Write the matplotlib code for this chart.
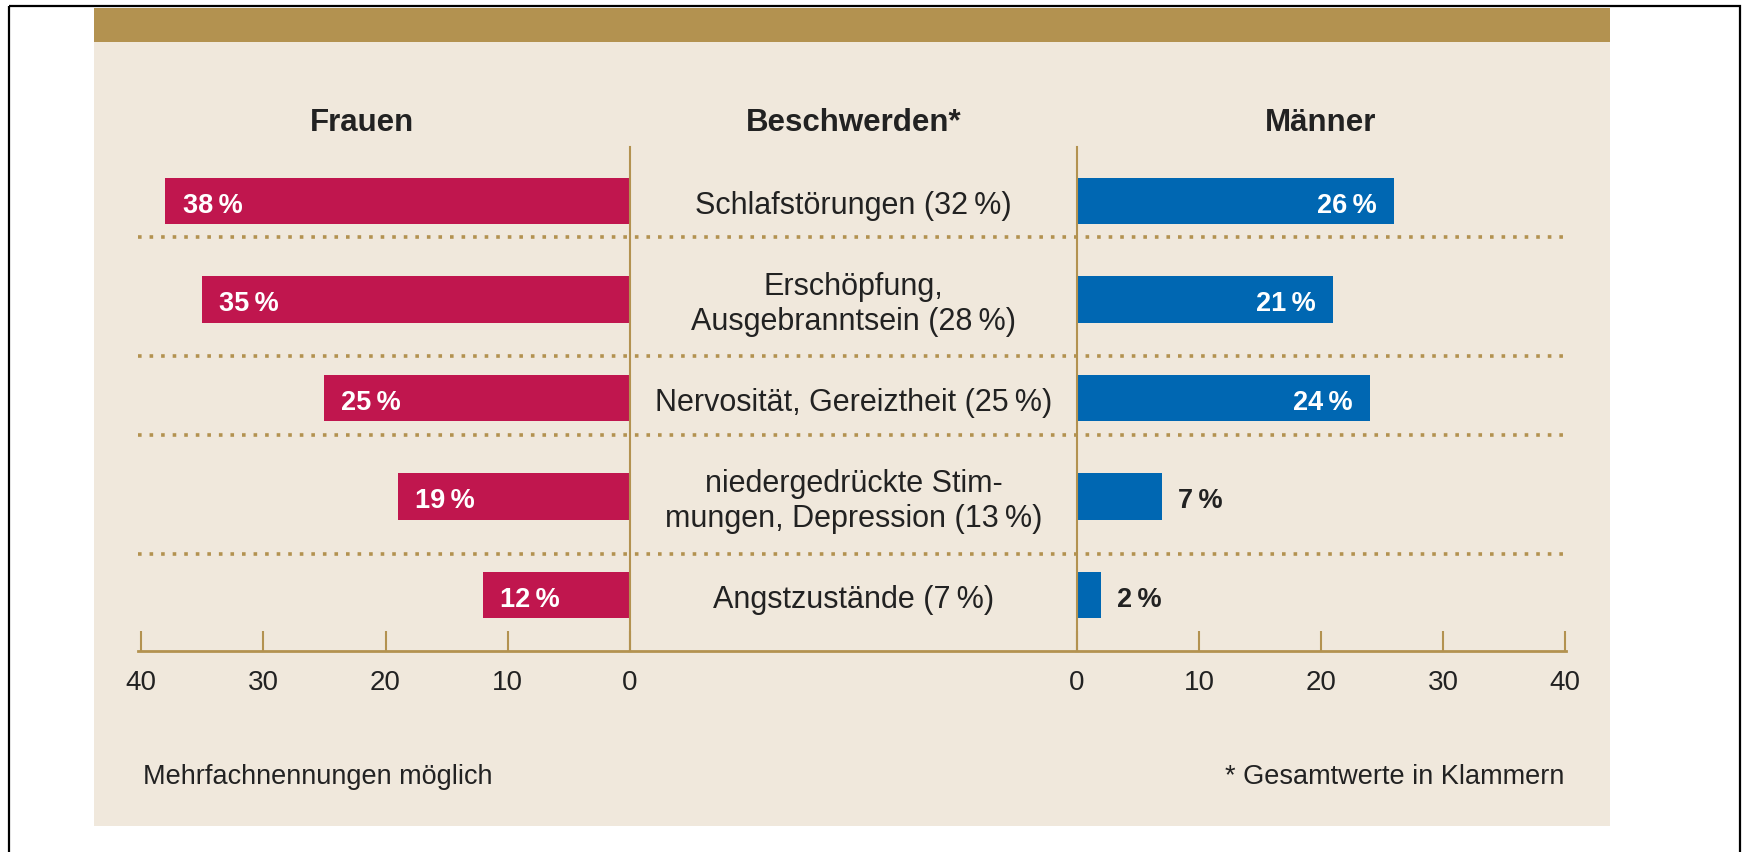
import matplotlib
matplotlib.use("Agg")
import matplotlib.pyplot as plt
from matplotlib.patches import Rectangle
from matplotlib import transforms

plt.rcParams['font.family'] = ['Liberation Sans', 'DejaVu Sans']

# data
beschwerden = ['Schlafstörungen', 'Erschöpfung,\nAusgebranntsein', 'Nervosität, Gereiztheit',
               'niedergedrückte Stim-\nmungen, Depression', 'Angstzustände']
gesamt = [32, 28, 25, 13, 7]
frauen = [38, 35, 25, 19, 12]
maenner = [26, 21, 24, 7, 2]
ticks = [0, 10, 20, 30, 40]

# colours
crimson = '#c0164e'
blue = '#0067b2'
gold = '#b39250'
beige = '#f0e8dc'
dark = '#222222'

W, H = 1748, 853
fig = plt.figure(figsize=(W / 100, H / 100), dpi=100)

def shifted(tr, dy=-4):
    # nudge text down a little so the glyphs sit centred like in the print
    return transforms.offset_copy(tr, fig=fig, y=dy, units='dots')

# background panel, gold band, frame
bg = fig.add_axes([0, 0, 1, 1])
bg.set_xlim(0, W)
bg.set_ylim(H, 0)
bg.axis('off')
bg.add_patch(Rectangle((94, 9), 1516, 818, color=beige, lw=0))
bg.add_patch(Rectangle((94, 9), 1516, 34, color=gold, lw=0))
bg.add_patch(Rectangle((9, 7), 1731, 900, fill=False, ec='black', lw=1.6))

ypos = list(range(len(beschwerden)))
ylim = (4.565, -0.549)
ax_bottom = 1 - 651.7 / H
ax_height = 504 / H

# middle strip: bottom line + dotted separators
ax_mid = fig.add_axes([138 / W, ax_bottom, (1566 - 138) / W, ax_height])
ax_mid.set_xlim(0, 1)
ax_mid.set_ylim(*ylim)
ax_mid.patch.set_visible(False)
for s in ['top', 'left', 'right']:
    ax_mid.spines[s].set_visible(False)
ax_mid.spines['bottom'].set_color(gold)
ax_mid.spines['bottom'].set_linewidth(2.0)
ax_mid.set_xticks([])
ax_mid.set_yticks([])
sep_pos = [0.37, 1.57, 2.38, 3.58]
ax_mid.hlines(sep_pos, 0, 1, colors=gold, linewidth=2.6, linestyles=(0, (1, 2.2)))

# Frauen (left)
ax_l = fig.add_axes([141 / W, ax_bottom, 489 / W, ax_height])
ax_l.barh(ypos, frauen, height=0.47, color=crimson)
ax_l.set_xlim(40, 0)
ax_l.set_ylim(*ylim)

# Männer (right)
ax_r = fig.add_axes([1077 / W, ax_bottom, 488 / W, ax_height])
ax_r.barh(ypos, maenner, height=0.47, color=blue)
ax_r.set_xlim(0, 40)
ax_r.set_ylim(*ylim)

for ax, keep in [(ax_l, 'right'), (ax_r, 'left')]:
    ax.patch.set_visible(False)
    for s in ['top', 'bottom', 'left', 'right']:
        ax.spines[s].set_visible(s == keep)
    ax.spines[keep].set_color(gold)
    ax.spines[keep].set_linewidth(1.5)
    ax.set_yticks([])
    ax.set_xticks(ticks)
    ax.tick_params(axis='x', direction='in', length=14.5, width=1.5, color=gold,
                   labelsize=20, labelcolor=dark, pad=13)

for y, v in zip(ypos, frauen):
    ax_l.text(v - 1.4, y, f'{v}\u2009%', ha='left', va='center', color='white',
              fontsize=19.5, fontweight='bold', transform=shifted(ax_l.transData))

for y, v in zip(ypos, maenner):
    if v >= 10:
        ax_r.text(v - 1.4, y, f'{v}\u2009%', ha='right', va='center', color='white',
                  fontsize=19.5, fontweight='bold', transform=shifted(ax_r.transData))
    else:
        ax_r.text(v + 1.3, y, f'{v}\u2009%', ha='left', va='center', color=dark,
                  fontsize=19.5, fontweight='bold', transform=shifted(ax_r.transData))

# category labels in the middle
trans = transforms.blended_transform_factory(fig.transFigure, ax_l.transData)
for y, name, g in zip(ypos, beschwerden, gesamt):
    fig.text(853.5 / W, y, f'{name} ({g}\u2009%)', transform=shifted(trans), ha='center',
             va='center', multialignment='center', fontsize=22, color=dark, linespacing=1.2)

# headers
for x, label in [(362, 'Frauen'), (853.5, 'Beschwerden*'), (1321, 'Männer')]:
    fig.text(x / W, 1 - 119 / H, label, ha='center', va='center', fontsize=22.5,
             fontweight='bold', color=dark, transform=shifted(fig.transFigure))

# notes
fig.text(143 / W, 1 - 773 / H, 'Mehrfachnennungen möglich', ha='left', va='center',
         fontsize=19.5, color=dark, transform=shifted(fig.transFigure))
fig.text(1564 / W, 1 - 773 / H, '* Gesamtwerte in Klammern', ha='right', va='center',
         fontsize=19.5, color=dark, transform=shifted(fig.transFigure))

fig.savefig('out.png', dpi=100, facecolor='white')
